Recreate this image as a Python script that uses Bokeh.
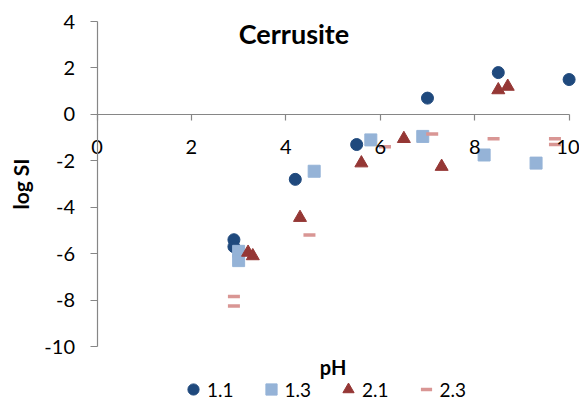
from bokeh.plotting import figure
from bokeh.models import FixedTicker, Legend, LegendItem, Label
from bokeh.embed import file_html
from bokeh.resources import INLINE

# pH and saturation index (log SI) of cerrusite for each run
ph_11 = [2.9, 2.9, 4.2, 5.5, 7.0, 8.5, 10.0]
si_11 = [-5.4, -5.7, -2.8, -1.3, 0.7, 1.8, 1.5]

ph_13 = [3.0, 3.0, 4.6, 5.8, 6.9, 8.2, 9.3]
si_13 = [-5.9, -6.3, -2.45, -1.1, -0.95, -1.75, -2.1]

ph_21 = [3.2, 3.3, 4.3, 5.6, 6.5, 7.3, 8.5, 8.7]
si_21 = [-5.95, -6.1, -4.45, -2.1, -1.05, -2.25, 1.05, 1.2]

ph_23 = [2.9, 2.9, 4.5, 6.1, 7.1, 8.4, 9.7, 9.7]
si_23 = [-7.85, -8.25, -5.2, -1.4, -0.85, -1.05, -1.05, -1.3]

series_names = ["1.1", "1.3", "2.1", "2.3"]
x_ticks = [0, 2, 4, 6, 8, 10]
y_ticks = [-10, -8, -6, -4, -2, 0, 2, 4]

FONT = "Lato"
AXIS_GREY = "#868686"

# The plotting frame fills the whole canvas; both axes are pinned at the
# origin and bounded to the data extent, so labels are never clipped.
p = figure(
    width=579, height=401,
    x_range=(-2.044, 10.220), y_range=(-12.369, 4.905),
    output_backend="svg", toolbar_location=None,
    min_border=0,
)
p.grid.grid_line_color = None
p.outline_line_color = None
p.background_fill_color = "white"
p.border_fill_color = "white"

for ax in (p.xaxis[0], p.yaxis[0]):
    ax.axis_line_color = AXIS_GREY
    ax.axis_line_width = 1.2
    ax.major_tick_line_color = AXIS_GREY
    ax.major_tick_line_width = 1.2
    ax.minor_tick_line_color = None
    ax.major_tick_in = 0
    ax.major_label_text_font = FONT
    ax.major_label_text_font_size = "20px"
    ax.major_label_text_color = "black"

p.xaxis.fixed_location = 0
p.xaxis.bounds = (x_ticks[0], x_ticks[-1])
p.xaxis.ticker = FixedTicker(ticks=x_ticks)
p.xaxis.major_label_overrides = {t: str(t) for t in x_ticks}
p.xaxis.major_tick_out = 6
p.xaxis.major_label_standoff = 20

p.yaxis.fixed_location = 0
p.yaxis.bounds = (y_ticks[0], y_ticks[-1])
p.yaxis.ticker = FixedTicker(ticks=y_ticks)
p.yaxis.major_label_overrides = {t: str(t) for t in y_ticks}
p.yaxis.major_tick_out = 7
p.yaxis.major_label_standoff = 15
p.yaxis.axis_label = "log SI"
p.yaxis.axis_label_text_font = FONT
p.yaxis.axis_label_text_font_style = "bold"
p.yaxis.axis_label_text_font_size = "21px"
p.yaxis.axis_label_text_color = "black"
p.yaxis.axis_label_standoff = 9

# series
r11 = p.scatter(ph_11, si_11, marker="circle", size=12,
                fill_color="#1F497D", line_color="#1F497D")
r13 = p.scatter(ph_13, si_13, marker="square", size=12,
                fill_color="#95B3D7", line_color="#95B3D7")
r21 = p.scatter(ph_21, si_21, marker="triangle", size=13,
                fill_color="#953735", line_color="#953735")
r23 = p.scatter(ph_23, si_23, marker="dash", size=12,
                line_color="#D99694", line_width=3.5)

# legend keys are drawn at 0.4 of the key box, so the box is kept large
legend = Legend(
    items=[LegendItem(label=n, renderers=[r]) for n, r in
           zip(series_names, [r11, r13, r21, r23])],
    orientation="horizontal",
    location=(179, -3),
    glyph_width=28, glyph_height=30,
    label_standoff=0, spacing=23,
    padding=0, margin=0,
    border_line_color=None, background_fill_alpha=0,
    label_text_font=FONT, label_text_font_size="19px",
    label_text_color="black",
)
p.add_layout(legend, "center")

title = Label(x=0, y=4, x_offset=197, y_offset=-12, text="Cerrusite",
              text_font=FONT, text_font_style="bold", text_font_size="27px",
              text_align="center", text_baseline="alphabetic",
              text_color="black")
p.add_layout(title)

xlabel = Label(x=5, y=-10, y_offset=-20, text="pH",
               text_font=FONT, text_font_style="bold", text_font_size="20px",
               text_align="center", text_baseline="alphabetic",
               text_color="black")
p.add_layout(xlabel)

open("out.html", "w").write(file_html(p, INLINE))
